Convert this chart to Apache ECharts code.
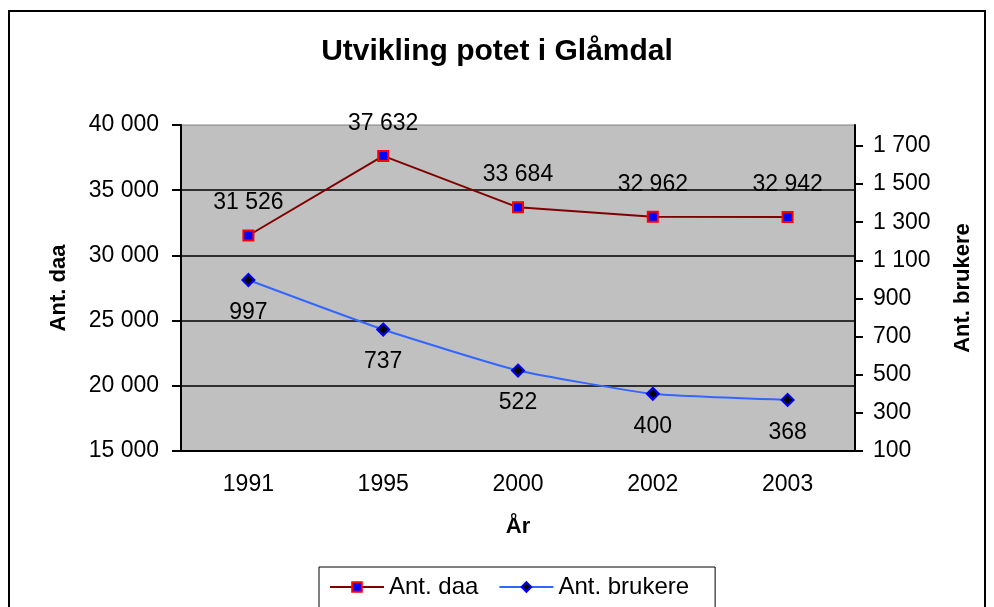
<!DOCTYPE html>
<html>
<head>
<meta charset="utf-8">
<script src="https://cdn.jsdelivr.net/npm/echarts@6/dist/echarts.min.js"></script>
<style>
  html, body { margin: 0; padding: 0; background: #fff; }
  #chart { width: 994px; height: 607px; }
</style>
</head>
<body>
<div id="chart"></div>
<script>
const years = ["1991", "1995", "2000", "2002", "2003"];
const antDaa = [31526, 37632, 33684, 32962, 32942];
const antBrukere = [997, 737, 522, 400, 368];
const rightTicks = [100, 300, 500, 700, 900, 1100, 1300, 1500, 1700];

const font = "Liberation Sans, Arial, sans-serif";
const fmt = (v) => String(v).replace(/\B(?=(\d{3})+(?!\d))/g, " ");

const chart = echarts.init(document.getElementById("chart"), null, { renderer: "canvas" });

chart.setOption({
  backgroundColor: "#fff",
  animation: false,
  title: {
    text: "Utvikling potet i Glåmdal",
    left: "center",
    top: 32,
    textStyle: { fontFamily: font, fontSize: 30, fontWeight: "bold", color: "#000" }
  },
  graphic: [{
    type: "rect",
    shape: { x: 9, y: 11, width: 976, height: 640 },
    style: { fill: null, stroke: "#000", lineWidth: 2 },
    silent: true
  }],
  legend: {
    top: 567,
    left: 319,
    itemWidth: 54,
    itemHeight: 12,
    itemGap: 20,
    padding: [8, 26, 20, 10],
    borderColor: "#000",
    borderWidth: 1,
    textStyle: { fontFamily: font, fontSize: 24, color: "#000" },
    data: ["Ant. daa", "Ant. brukere"]
  },
  grid: {
    left: 181, right: 139, top: 125, bottom: 156,
    show: true, backgroundColor: "#C0C0C0", borderColor: "#808080", borderWidth: 1
  },
  xAxis: {
    type: "category",
    data: years,
    boundaryGap: true,
    name: "År",
    nameLocation: "middle",
    nameGap: 65,
    nameTextStyle: { fontFamily: font, fontSize: 22, fontWeight: "bold", color: "#000" },
    axisLine: { lineStyle: { color: "#000", width: 2 } },
    axisTick: { length: 8, lineStyle: { color: "#000", width: 2 } },
    axisLabel: { fontFamily: font, fontSize: 23, color: "#000", margin: 22 }
  },
  yAxis: [{
    type: "value",
    min: 15000, max: 40000, interval: 5000,
    name: "Ant. daa",
    nameLocation: "middle",
    nameGap: 111,
    nameRotate: 90,
    nameTextStyle: { fontFamily: font, fontSize: 22, fontWeight: "bold", color: "#000" },
    axisLine: { show: true, lineStyle: { color: "#000", width: 2 } },
    axisTick: { show: true, length: 9, lineStyle: { color: "#000", width: 2 } },
    axisLabel: { fontFamily: font, fontSize: 23, color: "#000", margin: 22, formatter: fmt },
    splitLine: { show: true, showMinLine: false, showMaxLine: false, lineStyle: { color: "#000", width: 1.5 } }
  }, {
    type: "value",
    position: "right",
    min: 100, max: 1810,
    name: "Ant. brukere",
    nameLocation: "middle",
    nameGap: 97,
    nameRotate: 90,
    nameTextStyle: { fontFamily: font, fontSize: 22, fontWeight: "bold", color: "#000" },
    axisLine: { show: true, lineStyle: { color: "#000", width: 2 } },
    axisTick: { show: true, inside: false, length: 8, customValues: rightTicks, lineStyle: { color: "#000", width: 2 } },
    axisLabel: { fontFamily: font, fontSize: 23, color: "#000", margin: 18, customValues: rightTicks, formatter: fmt },
    splitLine: { show: false }
  }],
  series: [{
    name: "Ant. daa",
    type: "line",
    yAxisIndex: 0,
    data: antDaa,
    smooth: false,
    symbol: "rect",
    symbolSize: 10,
    lineStyle: { color: "#800000", width: 2 },
    itemStyle: { color: "#0000FF", borderColor: "#FF0000", borderWidth: 2 },
    label: {
      show: true, position: "top", distance: 15,
      fontFamily: font, fontSize: 23, color: "#000",
      formatter: (p) => fmt(p.value)
    }
  }, {
    name: "Ant. brukere",
    type: "line",
    yAxisIndex: 1,
    data: antBrukere,
    smooth: 0.15,
    symbol: "diamond",
    symbolSize: 12,
    lineStyle: { color: "#3366FF", width: 2 },
    itemStyle: { color: "#000000", borderColor: "#0000FF", borderWidth: 2 },
    label: {
      show: true, position: "bottom", distance: 14,
      fontFamily: font, fontSize: 23, color: "#000",
      formatter: (p) => fmt(p.value)
    }
  }]
});
</script>
</body>
</html>
